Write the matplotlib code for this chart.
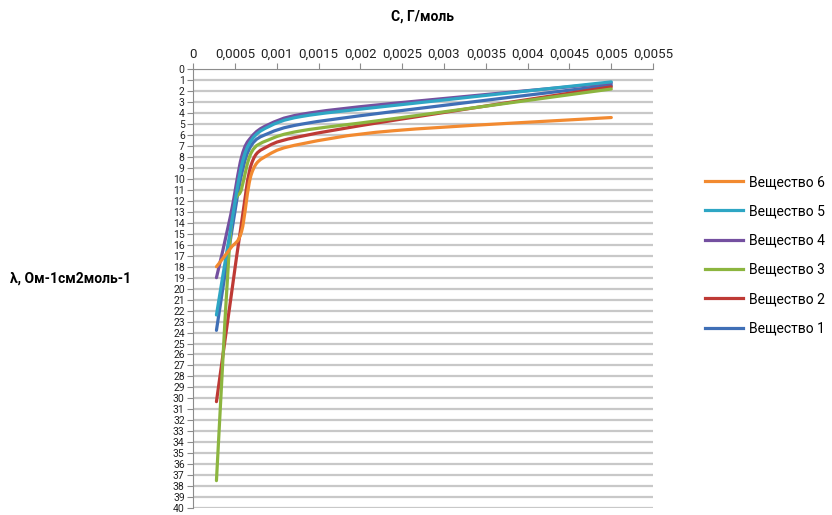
import numpy as np
import matplotlib.pyplot as plt
from matplotlib.path import Path
from matplotlib.patches import PathPatch
from matplotlib.lines import Line2D

plt.rcParams['font.family'] = ['Roboto', 'DejaVu Sans']

# concentration points
conc = [0.00028, 0.00045, 0.00058, 0.0007, 0.0009, 0.0013, 0.0024, 0.005]

lam1 = [23.8, 15.4, 9.6, 6.9, 5.85, 5.0, 3.85, 1.45]
lam2 = [30.3, 21.0, 14.0, 8.6, 7.0, 6.1, 4.65, 1.6]
lam3 = [37.5, 14.8, 10.9, 7.55, 6.45, 5.6, 4.5, 1.8]
lam4 = [19.0, 13.3, 8.0, 6.15, 5.05, 4.1, 3.1, 1.25]
lam5 = [22.4, 14.5, 8.8, 6.45, 5.25, 4.3, 3.3, 1.15]
lam6 = [18.0, 16.3, 14.8, 9.5, 7.8, 6.8, 5.6, 4.4]

names = ['Вещество 1', 'Вещество 2', 'Вещество 3',
         'Вещество 4', 'Вещество 5', 'Вещество 6']
colors = ['#3f6fb6', '#be3a35', '#8cb53f', '#7450a0', '#2ea6c4', '#f28a30']

xtick_labels = ['0', '0,0005', '0,001', '0,0015', '0,002', '0,0025',
                '0,003', '0,0035', '0,004', '0,0045', '0,005', '0,0055']


def smooth_path(xs, ys):
    # excel-like smoothed line: catmull-rom turned into cubic beziers
    p = np.column_stack([xs, ys])
    n = len(p)
    verts = [p[0]]
    codes = [Path.MOVETO]
    for i in range(n - 1):
        p0 = p[max(i - 1, 0)]
        p1 = p[i]
        p2 = p[i + 1]
        p3 = p[min(i + 2, n - 1)]
        c1 = p1 + (p2 - p0) / 6
        c2 = p2 - (p3 - p1) / 6
        verts += [c1, c2, p2]
        codes += [Path.CURVE4] * 3
    return Path(verts, codes)


fig = plt.figure(figsize=(8.32, 5.15), dpi=100)
ax = fig.add_axes([0.232, 0.0135, 0.553, 0.852])

for ys, c in zip([lam1, lam2, lam3, lam4, lam5, lam6], colors):
    ax.add_patch(PathPatch(smooth_path(conc, ys), facecolor='none',
                           edgecolor=c, lw=2.3, capstyle='round'))

ax.set_xlim(0, 0.0055)
ax.set_ylim(40, 0)
ax.xaxis.tick_top()
ax.set_xticks(np.arange(12) * 0.0005)
ax.set_xticklabels(xtick_labels, fontsize=9.5, color='#222222')
ax.set_yticks(range(41))
ax.set_yticklabels([str(v) for v in range(41)], fontsize=7.5, color='#222222')
ax.tick_params(axis='both', direction='out', length=4, color='#8c8c8c', pad=2)
ax.grid(axis='y', color='#c8c8c8', lw=1.6)
ax.set_axisbelow(True)
for s in ['right', 'bottom']:
    ax.spines[s].set_visible(False)
for s in ['top', 'left']:
    ax.spines[s].set_color('#8c8c8c')

fig.text(0.508, 0.967, 'C, Г/моль', ha='center', va='center',
         fontsize=10, fontweight='bold')
fig.text(0.012, 0.46, 'λ, Ом-1см2моль-1', ha='left', va='center',
         fontsize=10, fontweight='bold')

handles = [Line2D([], [], color=c, lw=2.3) for c in colors]
fig.legend(handles[::-1], names[::-1], loc='upper left',
           bbox_to_anchor=(705 / 832, 1 - 175 / 515), frameon=False,
           fontsize=10, labelspacing=1.1, handlelength=2.7,
           handletextpad=0.45, borderpad=0, borderaxespad=0)

fig.savefig('out.png', dpi=100)
